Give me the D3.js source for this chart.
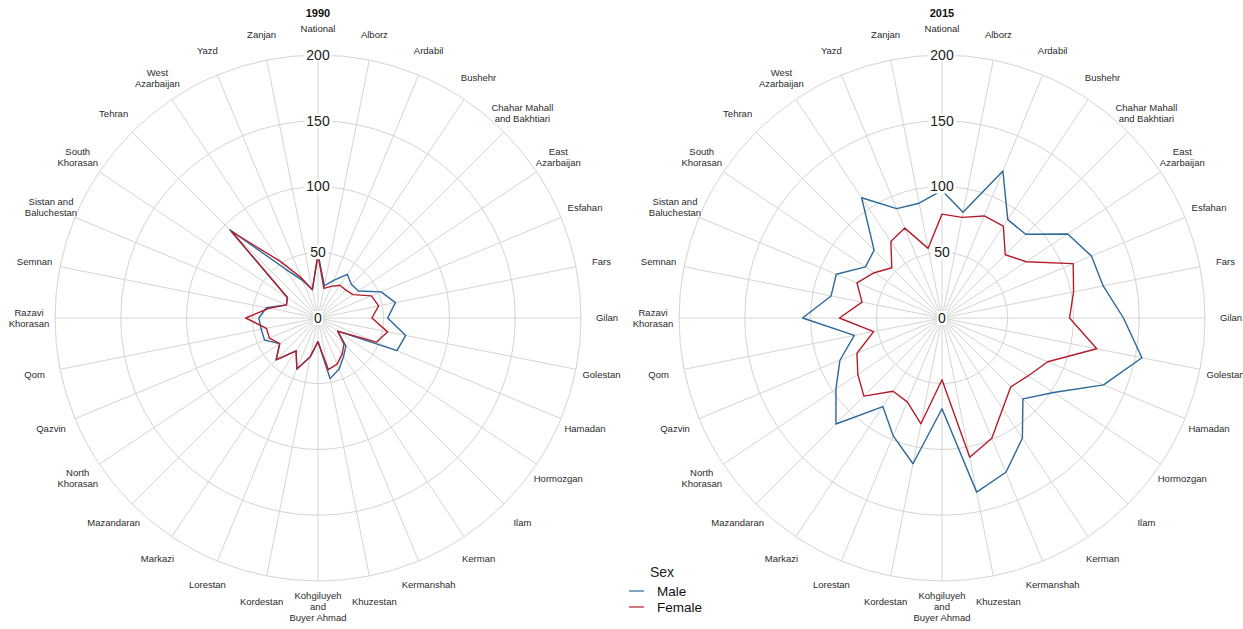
<!DOCTYPE html>
<html>
<head>
<meta charset="utf-8">
<script src="https://cdn.jsdelivr.net/npm/d3@7"></script>
<style>
  html, body { margin: 0; padding: 0; background: #fff; }
  svg { display: block; font-family: "Liberation Sans", Arial, sans-serif; }
</style>
</head>
<body>
<svg id="chart" width="1243" height="629"></svg>
<script>
// Provinces, clockwise from the top spoke
const provinces = [
  "National", "Alborz", "Ardabil", "Bushehr", "Chahar Mahall\nand Bakhtiari",
  "East\nAzarbaijan", "Esfahan", "Fars", "Gilan", "Golestan", "Hamadan",
  "Hormozgan", "Ilam", "Kerman", "Kermanshah", "Khuzestan",
  "Kohgiluyeh\nand\nBuyer Ahmad", "Kordestan", "Lorestan", "Markazi",
  "Mazandaran", "North\nKhorasan", "Qazvin", "Qom", "Razavi\nKhorasan",
  "Semnan", "Sistan and\nBaluchestan", "South\nKhorasan", "Tehran",
  "West\nAzarbaijan", "Yazd", "Zanjan"
];

const radialTicks = [0, 50, 100, 150, 200];
const years = ["1990", "2015"];
const sexes = ["Male", "Female"];

const male1990 = [49, 25, 31, 40, 36, 37, 52, 60, 53, 68, 65, 18, 30, 35, 42, 47, 18, 30, 42, 30, 45, 35, 44, 44, 45, 40, 26, 28, 95, 45, 31, 22];
const female1990 = [48, 23, 26, 30, 30, 32, 44, 47, 41, 54, 48, 18, 28, 33, 38, 40, 18, 30, 42, 30, 45, 35, 40, 40, 55, 38, 26, 28, 93, 52, 33, 22];
const male2015 = [97, 82, 121, 90, 90, 115, 123, 125, 138, 155, 133, 102, 87, 110, 127, 135, 69, 113, 97, 81, 114, 97, 84, 68, 106, 86, 87, 70, 73, 110, 90, 89];
const female2015 = [79, 78, 84, 84, 68, 77, 108, 102, 97, 120, 87, 79, 74, 83, 99, 108, 47, 82, 69, 67, 84, 77, 70, 53, 78, 62, 70, 62, 54, 70, 74, 54];

const seriesByYear = {
  "1990": [male1990, female1990],
  "2015": [male2015, female2015]
};
const colors = { Male: "#2c6799", Female: "#b31e2b" };

const svg = d3.select("#chart");
const centers = [318, 942];
const cy = 318;
const maxR = 263;

const r = d3.scaleLinear().domain([0, 200]).range([0, maxR]);
const angle = d3.scaleLinear().domain([0, provinces.length]).range([0, 2 * Math.PI]);

years.forEach((year, yi) => {
  const g = svg.append("g").attr("transform", `translate(${centers[yi]},${cy})`);

  // concentric grid
  g.selectAll("circle.grid")
    .data(radialTicks.filter(d => d > 0))
    .join("circle")
    .attr("r", d => r(d))
    .attr("fill", "none")
    .attr("stroke", "#d4d4d4")
    .attr("stroke-width", 1);

  // spokes
  g.selectAll("line.spoke")
    .data(provinces)
    .join("line")
    .attr("x1", 0).attr("y1", 0)
    .attr("x2", (d, i) => r(200) * Math.sin(angle(i)))
    .attr("y2", (d, i) => -r(200) * Math.cos(angle(i)))
    .attr("stroke", "#d4d4d4")
    .attr("stroke-width", 1);

  // series outlines
  const line = d3.lineRadial()
    .angle((d, i) => angle(i))
    .radius(d => r(d))
    .curve(d3.curveLinearClosed);

  seriesByYear[year].forEach((vals, si) => {
    g.append("path")
      .attr("d", line(vals))
      .attr("fill", "none")
      .attr("stroke", colors[sexes[si]])
      .attr("stroke-width", 1.4)
      .attr("stroke-linejoin", "round");
  });

  // radial tick labels along the top spoke
  const tl = g.selectAll("g.tick")
    .data(radialTicks)
    .join("g")
    .attr("transform", d => `translate(0,${-r(d)})`);
  tl.append("rect")
    .attr("x", d => d === 0 ? -5 : -String(d).length * 4 - 2)
    .attr("y", -7)
    .attr("width", d => d === 0 ? 10 : String(d).length * 8 + 4)
    .attr("height", 14)
    .attr("fill", "#fff");
  tl.append("text")
    .attr("text-anchor", "middle")
    .attr("dy", "0.35em")
    .attr("font-size", 14)
    .attr("fill", "#1a1a1a")
    .text(d => d);

  // province labels
  const labelR = 289;
  const lab = g.selectAll("text.prov")
    .data(provinces)
    .join("text")
    .attr("text-anchor", "middle")
    .attr("font-size", 9.5)
    .attr("fill", "#2b2b2b")
    .attr("transform", (d, i) => `translate(${labelR * Math.sin(angle(i))},${-labelR * Math.cos(angle(i))})`);
  lab.each(function(d) {
    const lines = d.split("\n");
    const lh = 11;
    const t = d3.select(this);
    lines.forEach((ln, k) => {
      t.append("tspan")
        .attr("x", 0)
        .attr("y", (k - (lines.length - 1) / 2) * lh)
        .attr("dy", "0.35em")
        .text(ln);
    });
  });

  // panel title
  svg.append("text")
    .attr("x", centers[yi])
    .attr("y", 13)
    .attr("text-anchor", "middle")
    .attr("dy", "0.35em")
    .attr("font-size", 11)
    .attr("font-weight", "bold")
    .attr("fill", "#111")
    .text(year);
});

// legend
const leg = svg.append("g").attr("transform", "translate(629,572)");
leg.append("text")
  .attr("x", 21).attr("y", 0).attr("dy", "0.35em")
  .attr("font-size", 14).attr("fill", "#222")
  .text("Sex");
sexes.forEach((s, i) => {
  const y = 19 + i * 16;
  leg.append("line")
    .attr("x1", 0).attr("x2", 15)
    .attr("y1", y).attr("y2", y)
    .attr("stroke", colors[s]).attr("stroke-width", 1.2);
  leg.append("text")
    .attr("x", 28).attr("y", y).attr("dy", "0.35em")
    .attr("font-size", 13.5).attr("fill", "#111")
    .text(s);
});
</script>
</body>
</html>
